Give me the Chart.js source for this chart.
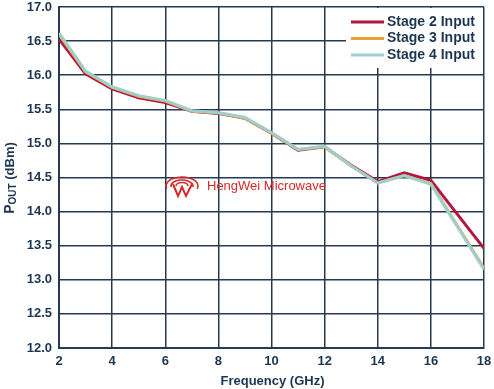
<!DOCTYPE html>
<html>
<head>
<meta charset="utf-8">
<script src="https://cdn.jsdelivr.net/npm/chart.js@4/dist/chart.umd.min.js"></script>
<style>
html,body{margin:0;padding:0;background:#fff;}
#wrap{width:494px;height:389px;position:relative;}
</style>
</head>
<body>
<div id="wrap"><canvas id="c" width="494" height="389"></canvas></div>
<script>
const freqs = [2,3,4,5,6,7,8,9,10,11,12,13,14,15,16,17,18];
const stage2 = [16.53,16.02,15.80,15.67,15.60,15.47,15.44,15.37,15.15,14.90,14.95,14.68,14.44,14.57,14.46,13.96,13.46];
const stage3 = [16.60,16.05,15.82,15.69,15.62,15.47,15.45,15.37,15.15,14.91,14.95,14.67,14.42,14.53,14.41,13.79,13.17];
const stage4 = [16.62,16.06,15.83,15.70,15.63,15.48,15.45,15.38,15.16,14.91,14.96,14.67,14.42,14.53,14.40,13.78,13.15];
const seriesLabels = ['Stage 2 Input','Stage 3 Input','Stage 4 Input'];
const xTitle = 'Frequency (GHz)';
const yTitleMain = 'P';
const yTitleSub = 'OUT';
const yTitleRest = ' (dBm)';
const watermark = 'HengWei Microwave';

const navy = '#1d3550';
const gridCol = '#253a50';
const colors = ['#b3173f','#e9a23b','#9dcfcc'];
const FONT = '"Liberation Sans", Arial, sans-serif';

function pts(arr){ return freqs.map((f,i)=>({x:f,y:arr[i]})); }

const decor = {
  id:'decor',
  beforeDatasetsDraw(chart){
    const ctx = chart.ctx;
    ctx.save();
    const cx = 182, cy = 186;
    ctx.strokeStyle = '#d42a2a';
    ctx.lineWidth = 1.6;
    ctx.beginPath(); ctx.ellipse(cx, cy, 16, 9, 0, Math.PI*0.9, Math.PI*2.1); ctx.stroke();
    ctx.beginPath(); ctx.ellipse(cx, cy, 11, 6, 0, Math.PI*0.95, Math.PI*2.05); ctx.stroke();
    ctx.beginPath(); ctx.ellipse(cx, cy, 6, 3.5, 0, Math.PI, Math.PI*2); ctx.stroke();
    ctx.lineWidth = 2;
    ctx.beginPath();
    ctx.moveTo(cx-9, cy-2); ctx.lineTo(cx-4, cy+10); ctx.lineTo(cx, cy+1); ctx.lineTo(cx+4, cy+10); ctx.lineTo(cx+10, cy-2);
    ctx.stroke();
    ctx.fillStyle = '#d42a2a';
    ctx.font = '13px ' + FONT;
    ctx.textBaseline = 'middle';
    ctx.textAlign = 'left';
    ctx.fillText(watermark, 207, 186);
    ctx.restore();
  },
  afterDatasetsDraw(chart){
    const ctx = chart.ctx;
    const a = chart.chartArea;
    ctx.save();
    ctx.fillStyle = '#ffffff';
    ctx.fillRect(346, a.top+1, a.right-346-1, 60);
    ctx.font = 'bold 14px ' + FONT;
    ctx.textBaseline = 'middle';
    ctx.textAlign = 'left';
    chart.data.datasets.forEach((ds,i)=>{
      const y = 22 + i*16.5;
      ctx.strokeStyle = ds.borderColor;
      ctx.lineWidth = 3;
      ctx.beginPath(); ctx.moveTo(351,y); ctx.lineTo(384,y); ctx.stroke();
      ctx.fillStyle = navy;
      ctx.fillText(ds.label, 387, y);
    });
    ctx.restore();
  },
  afterDraw(chart){
    const ctx = chart.ctx;
    const a = chart.chartArea;
    ctx.save();
    ctx.fillStyle = navy;
    ctx.font = 'bold 13px ' + FONT;
    ctx.textAlign = 'center';
    ctx.textBaseline = 'middle';
    ctx.fillText(xTitle, (a.left+a.right)/2 + 1, 381);
    ctx.translate(10, 178);
    ctx.rotate(-Math.PI/2);
    ctx.textAlign = 'left';
    const f1 = 'bold 14px ' + FONT, f2 = 'bold 10px ' + FONT, f3 = 'bold 13px ' + FONT;
    ctx.font = f1; const w1 = ctx.measureText(yTitleMain).width;
    ctx.font = f2; const w2 = ctx.measureText(yTitleSub).width;
    ctx.font = f3; const w3 = ctx.measureText(yTitleRest).width;
    let x = -(w1+w2+w3)/2;
    ctx.font = f1; ctx.fillText(yTitleMain, x, 0); x += w1;
    ctx.font = f2; ctx.fillText(yTitleSub, x, 3); x += w2;
    ctx.font = f3; ctx.fillText(yTitleRest, x, 0);
    ctx.restore();
  }
};

new Chart(document.getElementById('c'), {
  type:'line',
  data:{
    datasets:[
      {label:seriesLabels[0], data:pts(stage2), borderColor:colors[0], borderWidth:3, pointRadius:0, tension:0, fill:false, order:2},
      {label:seriesLabels[1], data:pts(stage3), borderColor:colors[1], borderWidth:3, pointRadius:0, tension:0, fill:false, order:1},
      {label:seriesLabels[2], data:pts(stage4), borderColor:colors[2], borderWidth:3, pointRadius:0, tension:0, fill:false, order:0}
    ]
  },
  options:{
    responsive:false,
    animation:false,
    devicePixelRatio:1,
    layout:{padding:{top:7,right:10,left:0,bottom:0}},
    plugins:{legend:{display:false}, tooltip:{enabled:false}},
    scales:{
      x:{
        type:'linear', min:2, max:18,
        ticks:{stepSize:2, color:navy, font:{family:FONT, size:13, weight:'bold'}, padding:6, maxRotation:0},
        grid:{color:gridCol, lineWidth:1.5, drawTicks:false},
        border:{color:gridCol, width:2},
        afterFit(s){ s.height = 41; s.paddingRight = 0; s.paddingLeft = 0; }
      },
      y:{
        min:12, max:17,
        ticks:{stepSize:0.5, color:navy, font:{family:FONT, size:13, weight:'bold'}, padding:7, callback:v=>Number(v).toFixed(1)},
        grid:{color:gridCol, lineWidth:1.5, drawTicks:false},
        border:{color:gridCol, width:2},
        afterFit(s){ s.width = 59; s.paddingTop = 0; s.paddingBottom = 0; }
      }
    }
  },
  plugins:[decor]
});
</script>
</body>
</html>
